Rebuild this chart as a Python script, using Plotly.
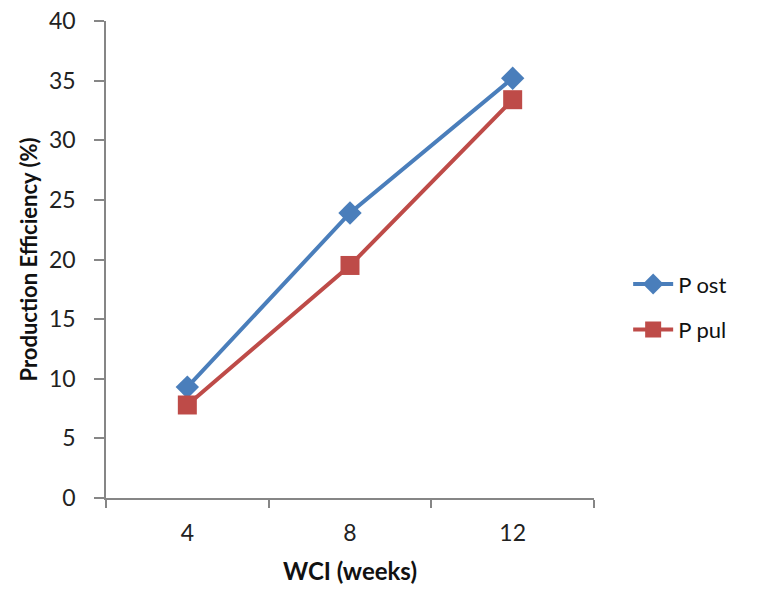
import plotly.graph_objects as go

# WCI interval (weeks) and production efficiency (%) per group
wci_weeks = ["4", "8", "12"]
p_ost = [9.3, 23.9, 35.2]
p_pul = [7.8, 19.5, 33.4]
y_ticks = [0, 5, 10, 15, 20, 25, 30, 35, 40]

axis_gray = "#868686"
font_family = "Lato, 'Open Sans', sans-serif"

fig = go.Figure()
fig.add_trace(go.Scatter(
    x=wci_weeks, y=p_ost, name="P ost", mode="lines+markers",
    legendgroup="ost",
    line=dict(color="#4a7ebb", width=4),
    marker=dict(symbol="diamond", size=18, color="#4a7ebb"),
))
fig.add_trace(go.Scatter(
    x=wci_weeks, y=p_pul, name="P pul", mode="lines+markers",
    legendgroup="pul",
    line=dict(color="#be4b48", width=4),
    marker=dict(symbol="square", size=19, color="#be4b48"),
))

fig.update_layout(
    width=762, height=589,
    margin=dict(l=106, r=168, t=21, b=91),
    paper_bgcolor="white", plot_bgcolor="white",
    font=dict(family=font_family, color="#222222"),
    showlegend=True,
    legend=dict(
        x=1.07, y=0.40, xanchor="left", yanchor="middle",
        font=dict(size=22, color="#111111"),
        tracegroupgap=14, itemwidth=40,
    ),
    xaxis=dict(
        type="category", range=[-0.5, 2.5], automargin=False,
        showline=True, linecolor=axis_gray, linewidth=1.5,
        ticks="outside", tickson="boundaries", ticklen=8,
        tickcolor=axis_gray, tickwidth=1.5,
        showgrid=False, zeroline=False,
        tickfont=dict(size=23, color="#222222"),
        ticklabelstandoff=14,
        title=dict(text="<b>WCI (weeks)</b>", font=dict(size=24, color="#111111"),
                   standoff=18),
    ),
    yaxis=dict(
        range=[0, 40], tickvals=y_ticks, automargin=False,
        showline=True, linecolor=axis_gray, linewidth=1.5,
        ticks="outside", ticklen=10, tickcolor=axis_gray, tickwidth=1.5,
        showgrid=False, zeroline=False,
        tickfont=dict(size=23, color="#222222"),
        ticklabelstandoff=14,
        title=dict(text="<b>Production Efficiency (%)</b>",
                   font=dict(size=22, color="#111111"), standoff=5),
    ),
)

fig.write_html("out.html")
